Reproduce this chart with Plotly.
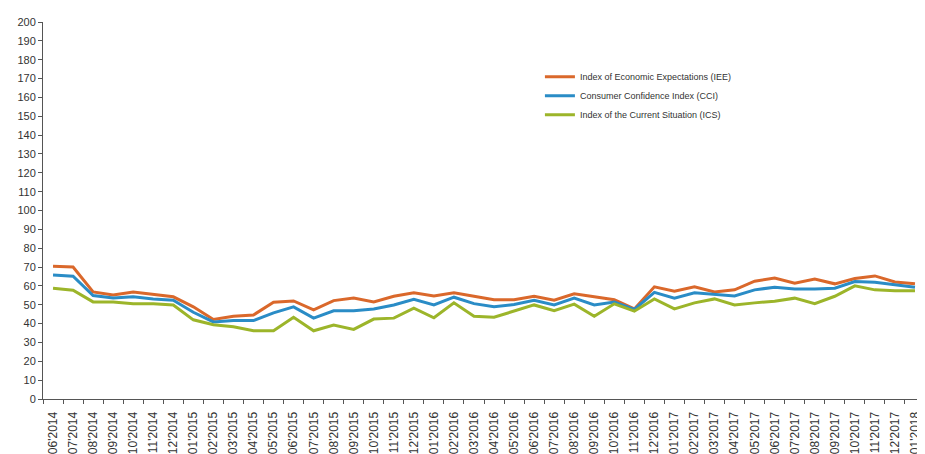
import plotly.graph_objects as go

months = ["06'2014","07'2014","08'2014","09'2014","10'2014","11'2014","12'2014",
          "01'2015","02'2015","03'2015","04'2015","05'2015","06'2015","07'2015","08'2015","09'2015","10'2015","11'2015","12'2015",
          "01'2016","02'2016","03'2016","04'2016","05'2016","06'2016","07'2016","08'2016","09'2016","10'2016","11'2016","12'2016",
          "01'2017","02'2017","03'2017","04'2017","05'2017","06'2017","07'2017","08'2017","09'2017","10'2017","11'2017","12'2017",
          "01'2018"]

iee = [70.4, 70.0, 56.8, 55.2, 56.8, 55.4, 54.2, 48.9, 42.2, 43.9, 44.6, 51.3, 52.0, 47.3,
       52.2, 53.6, 51.5, 54.5, 56.3, 54.7, 56.3, 54.5, 52.6, 52.6, 54.5, 52.4, 55.8, 54.2,
       52.7, 47.8, 59.5, 57.2, 59.5, 56.8, 57.9, 62.5, 64.2, 61.4, 63.7, 61.1, 63.9, 65.3, 62.1, 61.1]
cci = [65.8, 65.1, 54.9, 53.6, 54.2, 53.1, 52.4, 46.0, 40.9, 41.6, 41.6, 45.7, 48.9, 42.9,
       46.8, 46.8, 47.8, 49.9, 52.9, 49.9, 54.0, 50.6, 48.9, 50.1, 52.4, 49.9, 53.5, 49.9,
       51.5, 47.5, 56.6, 53.5, 56.3, 55.4, 54.7, 57.9, 59.3, 58.4, 58.4, 58.8, 62.3, 61.9, 60.5, 59.3]
ics = [58.8, 57.7, 51.5, 51.4, 50.5, 50.5, 49.9, 42.0, 39.4, 38.3, 36.2, 36.2, 43.4, 36.2,
       39.2, 36.9, 42.4, 42.9, 48.2, 43.1, 51.0, 43.9, 43.4, 46.6, 49.9, 46.8, 50.3, 43.9,
       50.5, 46.6, 53.1, 47.8, 51.0, 53.1, 49.9, 51.0, 51.9, 53.5, 50.6, 54.5, 60.0, 57.9, 57.4, 57.4]

names = ["Index of Economic Expectations (IEE)",
         "Consumer Confidence Index (CCI)",
         "Index of the Current Situation (ICS)"]
colors = ["#DA682B", "#2A8CC6", "#9CB52A"]

fig = go.Figure()
for vals, name, col in zip([iee, cci, ics], names, colors):
    fig.add_trace(go.Scatter(x=months, y=vals, mode="lines", name=name,
                             line=dict(color=col, width=3)))

fig.update_layout(
    width=917, height=446,
    margin=dict(l=35, r=0, t=14, b=55),
    paper_bgcolor="white", plot_bgcolor="white",
    font=dict(family="Liberation Sans, Arial, sans-serif", color="#333333"),
    showlegend=True,
    legend=dict(x=0.5634, y=0.893, xanchor="left", yanchor="top",
                font=dict(size=9, color="#333333"), bgcolor="rgba(0,0,0,0)",
                tracegroupgap=0, itemwidth=30),
    xaxis=dict(type="category", tickson="boundaries", ticks="outside", ticklen=4,
               tickcolor="#555555", showline=True, linecolor="#555555", linewidth=1,
               showgrid=False, tickangle=-90, tickfont=dict(size=12, color="#333333"),
               ticklabelstandoff=7,
               range=[-0.5, 43.5], automargin=False),
    yaxis=dict(range=[0, 200], dtick=10, ticks="outside", ticklen=4,
               tickcolor="#555555", showline=True, linecolor="#555555", linewidth=1,
               showgrid=False, zeroline=False, tickfont=dict(size=11, color="#333333"),
               automargin=False),
)

fig.write_html("out.html")
